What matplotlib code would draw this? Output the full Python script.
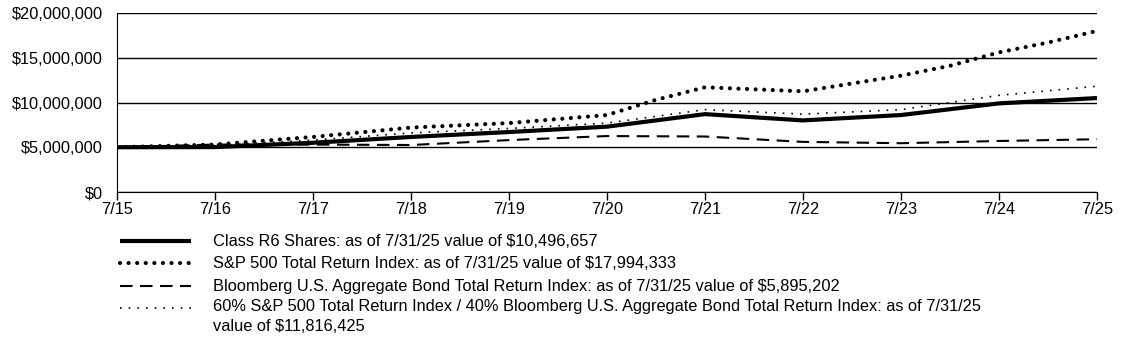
import matplotlib
matplotlib.use("Agg")
import matplotlib.pyplot as plt
from matplotlib.lines import Line2D
from matplotlib.ticker import FuncFormatter

plt.rcParams['font.family'] = ['Liberation Sans', 'DejaVu Sans']

# Period labels (July of each year)
tick_labels = ["7/15", "7/16", "7/17", "7/18", "7/19", "7/20",
               "7/21", "7/22", "7/23", "7/24", "7/25"]
years = list(range(len(tick_labels)))

# Growth of $5,000,000 (values in dollars)
class_r6 = [5_000_000, 5_020_000, 5_500_000, 6_150_000, 6_700_000, 7_300_000,
            8_700_000, 8_000_000, 8_600_000, 9_900_000, 10_496_657]

sp500_x = [0, 1, 2, 3, 4, 5, 5.5, 6, 7, 8, 8.5, 9, 9.5, 10]
sp500 = [5_000_000, 5_300_000, 6_150_000, 7_200_000, 7_700_000, 8_600_000,
         10_300_000, 11_700_000, 11_250_000, 13_000_000, 14_100_000,
         15_600_000, 16_700_000, 17_994_333]

bond = [5_000_000, 5_300_000, 5_300_000, 5_250_000, 5_800_000, 6_250_000,
        6_200_000, 5_600_000, 5_450_000, 5_700_000, 5_895_202]

blend = [5_000_000, 5_200_000, 5_800_000, 6_600_000, 7_100_000, 7_700_000,
         9_200_000, 8_700_000, 9_200_000, 10_800_000, 11_816_425]

legend_labels = [
    "Class R6 Shares: as of 7/31/25 value of $10,496,657",
    "S&P 500 Total Return Index: as of 7/31/25 value of $17,994,333",
    "Bloomberg U.S. Aggregate Bond Total Return Index: as of 7/31/25 value of $5,895,202",
    "60% S&P 500 Total Return Index / 40% Bloomberg U.S. Aggregate Bond Total Return Index: as of 7/31/25\nvalue of $11,816,425",
]

styles = [
    dict(color="black", lw=3.0, linestyle="-", solid_capstyle="butt"),
    dict(color="black", lw=3.0, linestyle=(0, (0.01, 2.05)), dash_capstyle="round"),
    dict(color="black", lw=1.5, linestyle=(0, (6, 3.6))),
    dict(color="black", lw=1.2, linestyle=(0, (1, 4.2))),
]

FS = 11.8

fig = plt.figure(figsize=(11.23, 3.47), dpi=100)
ax = fig.add_axes([117 / 1123, 1 - 192 / 347, (1097 - 117) / 1123, (192 - 13) / 347])

ax.plot(years, bond, **styles[2], zorder=3)
ax.plot(years, blend, **styles[3], zorder=3)
ax.plot(sp500_x, sp500, **styles[1], zorder=4)
ax.plot(years, class_r6, **styles[0], zorder=5)

ax.set_xlim(0, 10)
ax.set_ylim(0, 20_000_000)
ax.set_yticks([0, 5_000_000, 10_000_000, 15_000_000, 20_000_000])
ax.yaxis.set_major_formatter(FuncFormatter(lambda v, p: "${:,.0f}".format(v)))
ax.set_xticks(years)
ax.set_xticklabels(tick_labels)

ax.grid(axis="y", color="black", lw=1.0)
ax.set_axisbelow(True)
for side in ("top", "right"):
    ax.spines[side].set_visible(False)
ax.spines["left"].set_color("black")
ax.spines["bottom"].set_color("black")
ax.tick_params(axis="y", length=0, pad=10, labelsize=FS)
ax.tick_params(axis="x", direction="out", length=5.5, width=1, pad=2, labelsize=FS)

# Legend drawn beneath the plot
row_y = [241, 263, 286, 308]
for st, lab, yy in zip(styles, legend_labels, row_y):
    yf = 1 - yy / 347
    fig.add_artist(Line2D([120 / 1123, 191 / 1123], [yf, yf],
                          transform=fig.transFigure, **st))
    if "\n" in lab:
        fig.text(213 / 1123, yf + 9 / 347, lab, ha="left", va="top",
                 fontsize=FS, linespacing=1.38, transform=fig.transFigure)
    else:
        fig.text(213 / 1123, yf, lab, ha="left", va="center",
                 fontsize=FS, transform=fig.transFigure)

fig.savefig("out.png", dpi=100)
